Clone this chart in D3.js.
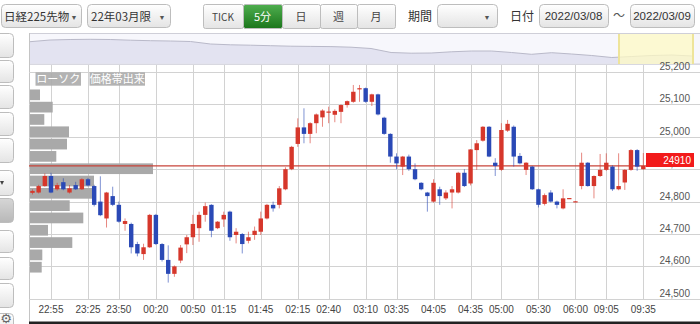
<!DOCTYPE html>
<html><head><meta charset="utf-8">
<script src="https://cdn.jsdelivr.net/npm/d3@7"></script>
<style>
body{margin:0;background:#fff;overflow:hidden}
svg{display:block;font-family:"Liberation Sans",Arial,"Noto Sans CJK JP",sans-serif}
.jp{font-family:"Noto Sans CJK JP","Liberation Sans",sans-serif}
</style>
</head><body>
<svg id="c" width="700" height="324"></svg>
<script>
// ---------- data ----------
const times = ["22:40","22:45","22:50","22:55","23:00","23:05","23:10","23:15","23:20","23:25","23:30","23:35","23:40","23:45","23:50","23:55",
"00:00","00:05","00:10","00:15","00:20","00:25","00:30","00:35","00:40","00:45","00:50","00:55",
"01:00","01:05","01:10","01:15","01:20","01:25","01:30","01:35","01:40","01:45","01:50","01:55",
"02:00","02:05","02:10","02:15","02:20","02:25","02:30","02:35","02:40","02:45","02:50","02:55",
"03:00","03:05","03:10","03:15","03:20","03:25","03:30","03:35","03:40","03:45","03:50","03:55",
"04:00","04:05","04:10","04:15","04:20","04:25","04:30","04:35","04:40","04:45","04:50","04:55",
"05:00","05:05","05:10","05:15","05:20","05:25","05:30","05:35","05:40","05:45","05:50","05:55",
"06:00","08:45","08:50","08:55","09:00","09:05","09:10","09:15","09:20","09:25","09:30","09:35"];
const openP  = [24827,24828,24848,24879,24838,24860,24828,24851,24838,24869,24848,24800,24748,24817,24790,24731,24731,24669,24638,24659,24759,24669,24620,24577,24618,24668,24690,24718,24759,24790,24718,24745,24769,24697,24700,24679,24697,24707,24748,24790,24790,24838,24900,24978,25029,25009,25042,25060,25075,25068,25077,25098,25108,25148,25150,25108,25131,25059,25009,24939,24908,24939,24900,24858,24828,24800,24838,24810,24828,24828,24889,24856,24959,24988,25031,24920,24898,25019,25031,24941,24898,24908,24838,24793,24828,24800,24779,24809,24799,24848,24920,24848,24879,24898,24908,24838,24859,24898,24959,24900];
const highP  = [24838,24852,24887,24889,24858,24872,24851,24861,24872,24873,24852,24878,24830,24846,24800,24748,24735,24676,24670,24762,24762,24672,24665,24603,24666,24697,24759,24769,24797,24792,24740,24769,24772,24718,24703,24707,24723,24769,24793,24800,24848,24906,24972,25057,25088,25045,25072,25085,25093,25085,25100,25112,25160,25160,25152,25133,25133,25062,25011,24949,24941,24945,24918,24860,24830,24869,24846,24835,24848,24892,24900,24962,24990,25033,25033,24934,25042,25052,25035,24950,24922,24910,24840,24825,24835,24803,24838,24811,24801,24951,24922,24881,24947,24949,24912,24949,24900,24962,24962,24950];
const lowP   = [24822,24825,24846,24826,24834,24835,24825,24836,24836,24847,24785,24755,24720,24786,24735,24710,24640,24631,24620,24657,24666,24615,24550,24568,24610,24641,24666,24676,24738,24690,24715,24722,24679,24671,24640,24671,24682,24697,24745,24769,24779,24835,24897,24969,24980,24980,25011,25031,25042,25045,25042,25090,25105,25108,25105,25095,25066,25006,24920,24900,24882,24895,24866,24835,24769,24797,24790,24805,24779,24825,24845,24850,24898,24985,24937,24879,24895,25015,24908,24915,24882,24836,24782,24788,24797,24779,24776,24808,24798,24838,24846,24810,24876,24895,24833,24835,24836,24895,24895,24898];
const closeP = [24833,24848,24879,24828,24851,24838,24841,24838,24869,24850,24790,24758,24828,24790,24738,24740,24659,24640,24659,24759,24669,24620,24577,24600,24658,24690,24731,24759,24786,24710,24738,24759,24690,24707,24669,24690,24710,24748,24790,24779,24841,24900,24969,25029,25009,25042,25069,25081,25078,25080,25098,25110,25139,25150,25108,25131,25069,25009,24939,24918,24939,24900,24869,24838,24817,24858,24817,24828,24838,24889,24848,24961,24980,25031,24939,24910,25021,25040,24939,24918,24920,24838,24790,24820,24800,24790,24810,24811,24801,24920,24848,24879,24898,24920,24838,24848,24898,24959,24908,24910];
const lastPrice = 24910;
const xTickLabels = ["22:55","23:25","23:50","00:20","00:50","01:15","01:45","02:15","02:40","03:10","03:35","04:05","04:35","05:00","05:30","06:00","09:05","09:35"];
const yTickValues = [24500,24600,24700,24800,24900,25000,25100,25200];
// volume-by-price profile (band top price, band size 38)
const profileTop = [25147,25109,25071,25033,24995,24957,24919,24881,24843,24805,24767,24729,24691,24653,24615];
const profileVol = [100,227,143,390,370,263,1230,640,620,397,533,180,423,123,117];
const profileBand = 38;
// navigator history
const navPrices = [26845,27100,27175,27205,27175,27070,26995,26950,26875,26500,26380,26320,26245,26170,26140,26110,26020,25825,25225,25120,25150,25330,25450,25450,25225,24955,25195,25000,24775,24475,24625,24775,24850,24700];

// ---------- drawing ----------
const svg = d3.select("#c");
const defs = svg.append("defs");
function grad(id, c1, c2){
  const g = defs.append("linearGradient").attr("id",id).attr("x1",0).attr("y1",0).attr("x2",0).attr("y2",1);
  g.append("stop").attr("offset","0%").attr("stop-color",c1);
  g.append("stop").attr("offset","100%").attr("stop-color",c2);
}
grad("btn","#ffffff","#e4e4e4");
grad("btnG","#4fae4f","#1b761b");
grad("btnD","#d6d6d6","#b8b8b8");

const UP="#d6372b", DN="#2a49b6";
const PL=29, PR=700, PT=64, PB=300;

const x = d3.scaleBand().domain(times).range([29.4, 646.4]).padding(0);
const cx = t => x(t) + x.bandwidth()/2;
const y = d3.scaleLinear().domain([24500,25200]).range([298.8,72]);

// --- header toolbar ---
const hdr = svg.append("g");
function box(x0,y0,w,h,fill,rx){
  return hdr.append("rect").attr("x",x0+0.5).attr("y",y0+0.5).attr("width",w).attr("height",h)
    .attr("rx",rx==null?4:rx).attr("fill",fill||"url(#btn)").attr("stroke","#bdbdbd");
}
function txt(g,x0,y0,s,opt){
  opt=opt||{};
  return g.append("text").attr("x",x0).attr("y",y0).text(s)
    .attr("font-size",opt.fs||12).attr("fill",opt.fill||"#333")
    .attr("text-anchor",opt.anchor||"start").attr("class",opt.cls||null);
}
box(1,4,80,23);
txt(hdr,4,20.5,"日経225先物",{fs:11.5,cls:"jp"});
txt(hdr,74,19.5,"▼",{fs:7,fill:"#555",anchor:"middle"});
box(87,4,83,23);
txt(hdr,91,20.5,"22年03月限",{fs:11.5,cls:"jp"});
txt(hdr,162,19.5,"▼",{fs:7,fill:"#555",anchor:"middle"});
const segs=[["TICK",203,243],["5分",243,282],["日",282,320],["週",320,357],["月",357,395]];
segs.forEach((s,i)=>{
  const sel = s[0]==="5分";
  box(s[1],4,s[2]-s[1],24, sel?"url(#btnG)":"url(#btn)", 2);
  txt(hdr,(s[1]+s[2])/2,20.5,s[0],{fs:i===0?10:11,anchor:"middle",fill:sel?"#fff":"#444",cls:"jp"});
});
txt(hdr,420,20.5,"期間",{anchor:"middle",cls:"jp"});
box(437,4,60,23);
txt(hdr,487,19.5,"▼",{fs:7,fill:"#555",anchor:"middle"});
txt(hdr,522,20.5,"日付",{anchor:"middle",cls:"jp"});
box(539,4,69,23);
txt(hdr,573.5,20,"2022/03/08",{fs:11.5,anchor:"middle"});
txt(hdr,619,20,"～",{anchor:"middle",fill:"#555",cls:"jp"});
box(630,4,64,23);
txt(hdr,662,20,"2022/03/09",{fs:11.5,anchor:"middle"});

// --- left side buttons ---
const lb = [[33,57],[60,82],[85,108],[112,135],[138,162],[170,195],[198,222],[230,252],[257,279],[283,307],[313,334]];
lb.forEach((b,i)=>{
  svg.append("rect").attr("x",-8).attr("y",b[0]+0.5).attr("width",21.5).attr("height",b[1]-b[0])
    .attr("rx",4).attr("fill", i===6?"url(#btnD)":"url(#btn)").attr("stroke","#bdbdbd");
});
svg.append("path").attr("d","M0,181 L4,181 L2,185 Z").attr("fill","#444");
txt(svg,6,323,"⚙",{fs:13,fill:"#666",anchor:"middle"}).attr("font-family","DejaVu Sans");

// --- navigator ---
svg.append("rect").attr("x",PL+0.5).attr("y",33.5).attr("width",PR-PL).attr("height",30.5)
  .attr("fill","#f7f7fc").attr("stroke","#cfcfd8");
const nx = d3.scalePoint().domain(d3.range(navPrices.length)).range([30,692]);
const ny = d3.scaleLinear().domain([23500,28000]).range([64,34]);
svg.append("path").datum(navPrices)
  .attr("d", d3.area().x((d,i)=>nx(i)).y0(63.5).y1(d=>ny(d)))
  .attr("fill","#e3e3f1");
svg.append("path").datum(navPrices)
  .attr("d", d3.line().x((d,i)=>nx(i)).y(d=>ny(d)))
  .attr("fill","none").attr("stroke","#b9b9c9").attr("stroke-width",1);
svg.append("rect").attr("x",619).attr("y",34).attr("width",74).attr("height",30)
  .attr("fill","#fdfac4").attr("fill-opacity",0.75);
[619,693].forEach(v=>svg.append("line").attr("x1",v).attr("x2",v).attr("y1",34).attr("y2",64)
  .attr("stroke","#eee49a").attr("stroke-width",2));

// --- main plot frame ---
svg.append("rect").attr("x",PL).attr("y",PT).attr("width",PR-PL).attr("height",PB-PT).attr("fill","#fff");
svg.append("line").attr("x1",PL).attr("x2",PR).attr("y1",64.5).attr("y2",64.5).attr("stroke","#d8d8e0");
svg.append("line").attr("x1",PL+0.5).attr("x2",PL+0.5).attr("y1",33).attr("y2",322).attr("stroke","#c4c4c4");

// gridlines
const grid = svg.append("g").attr("stroke","#d2d2d2").attr("stroke-width",1);
xTickLabels.forEach(t=>{
  const xv = Math.round(cx(t))+0.5;
  grid.append("line").attr("x1",xv).attr("x2",xv).attr("y1",PT+1).attr("y2",PB);
});
yTickValues.forEach(v=>{
  const yv = Math.round(y(v))+0.5;
  grid.append("line").attr("x1",PL).attr("x2",PR).attr("y1",yv).attr("y2",yv);
});

// volume profile
const vx = d3.scaleLinear().domain([0,1230]).range([0,123]);
svg.append("g").selectAll("rect").data(profileTop).join("rect")
  .attr("x",30).attr("y",d=>y(d)+0.3)
  .attr("width",(d,i)=>vx(profileVol[i]))
  .attr("height",d=>y(d-profileBand)-y(d)-1.6)
  .attr("fill","#a9a9a9");

// last price line
svg.append("line").attr("x1",PL).attr("x2",646).attr("y1",y(lastPrice)).attr("y2",y(lastPrice))
  .attr("stroke","#c8443a").attr("stroke-width",1.2);

// candles
const bw = 4.4;
const cg = svg.append("g");
times.forEach((t,i)=>{
  const o=openP[i], c=closeP[i], h=highP[i], l=lowP[i];
  const col = c>=o?UP:DN;
  const xc = cx(t);
  cg.append("line").attr("x1",xc).attr("x2",xc).attr("y1",y(h)).attr("y2",y(l))
    .attr("stroke",col).attr("stroke-opacity",0.6).attr("stroke-width",1);
  const top = y(Math.max(o,c)), bot = y(Math.min(o,c));
  cg.append("rect").attr("x",xc-bw/2).attr("y",top).attr("width",bw)
    .attr("height",Math.max(1.2,bot-top)).attr("fill",col);
});

// label boxes
[["ローソク",35.5,81],["価格帯出来",89.5,145]].forEach(b=>{
  svg.append("rect").attr("x",b[1]).attr("y",72.3).attr("width",b[2]-b[1]).attr("height",13.4)
    .attr("fill","#ababab").attr("fill-opacity",0.9);
  txt(svg,(b[1]+b[2])/2,83.2,b[0],{fs:11,fill:"#fff",anchor:"middle",cls:"jp"});
});

// y labels
yTickValues.forEach(v=>{
  txt(svg,690,Math.round(y(v))-2,d3.format(",")(v),{fs:10,fill:"#555",anchor:"end"});
});
// last price tag
svg.append("rect").attr("x",646).attr("y",153).attr("width",48).attr("height",14).attr("fill","#f21b1b");
txt(svg,691,163.8,String(lastPrice),{fs:10,fill:"#fff",anchor:"end"});

// x labels
xTickLabels.forEach(t=>{
  txt(svg,cx(t),313,t,{fs:10,fill:"#444",anchor:"middle"});
});

// bottom bar
svg.append("rect").attr("x",PL).attr("y",321.5).attr("width",PR-PL).attr("height",3).attr("fill","#222");
</script>
</body></html>
